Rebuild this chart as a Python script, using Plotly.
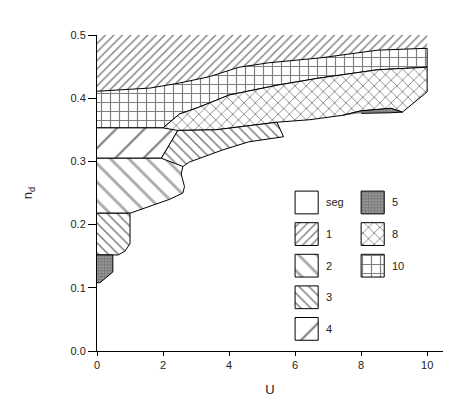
import plotly.graph_objects as go

# region outlines (U, n_d)
u_1 = [0, 1.6, 2.5, 3.4, 4.3, 5.2, 6.8, 8.5, 10, 10, 0]
nd_1 = [0.411, 0.416, 0.424, 0.434, 0.449, 0.456, 0.464, 0.476, 0.479, 0.5, 0.5]

u_10 = [0, 1.6, 2.5, 3.4, 4.3, 5.2, 6.8, 8.5, 10, 10, 8.5, 6.75, 5.5, 4.0, 3.1, 2.5, 2.0, 0]
nd_10 = [0.411, 0.416, 0.424, 0.434, 0.449, 0.456, 0.464, 0.476, 0.479,
         0.449, 0.445, 0.432, 0.421, 0.405, 0.386, 0.375, 0.353, 0.353]

u_8 = [2.0, 2.5, 3.1, 4.0, 5.5, 6.75, 8.5, 10, 10, 9.25, 8.9, 8.0, 7.45, 7.06, 6.45,
       5.45, 4.5, 3.6, 2.45]
nd_8 = [0.353, 0.375, 0.386, 0.405, 0.421, 0.432, 0.445, 0.449, 0.41, 0.378, 0.384,
        0.380, 0.373, 0.370, 0.366, 0.362, 0.356, 0.350, 0.349]

u_5a = [7.45, 8.0, 8.9, 9.25, 8.9, 8.0]
nd_5a = [0.373, 0.380, 0.384, 0.378, 0.377, 0.376]

u_4 = [0, 1.95, 2.45, 2.0, 0]
nd_4 = [0.305, 0.305, 0.349, 0.353, 0.353]

u_3a = [1.95, 2.45, 3.6, 4.5, 5.45, 5.65, 4.6, 3.8, 2.8, 2.6]
nd_3a = [0.305, 0.349, 0.350, 0.356, 0.362, 0.339, 0.331, 0.318, 0.299, 0.292]

u_2 = [0, 1.95, 2.6, 2.55, 2.65, 2.6, 2.2, 1.6, 1.0, 0]
nd_2 = [0.305, 0.305, 0.292, 0.28, 0.26, 0.25, 0.24, 0.229, 0.218, 0.218]

u_3b = [0, 1.0, 1.0, 0.85, 0.64, 0]
nd_3b = [0.218, 0.218, 0.17, 0.158, 0.152, 0.152]

u_5b = [0, 0.48, 0.48, 0.09, 0]
nd_5b = [0.152, 0.152, 0.125, 0.108, 0.108]

# legend entries: (label, column, row)
legend_items = [("seg", 0, 0), ("1", 0, 1), ("2", 0, 2), ("3", 0, 3), ("4", 0, 4),
                ("5", 1, 0), ("8", 1, 1), ("10", 1, 2)]

patterns = {
    "seg": None,
    "1": dict(shape="/", size=6, solidity=0.24, fgcolor="black"),
    "2": dict(shape="\\", size=13, solidity=0.22, fgcolor="#555"),
    "3": dict(shape="\\", size=7, solidity=0.22, fgcolor="black"),
    "4": dict(shape="/", size=20, solidity=0.11, fgcolor="black"),
    "5": dict(shape=".", size=3, solidity=0.85, fgcolor="black"),
    "8": dict(shape="x", size=8, solidity=0.2, fgcolor="black"),
    "10": dict(shape="+", size=9, solidity=0.24, fgcolor="black"),
}

regions = [
    ("1", u_1, nd_1, 0),
    ("10", u_10, nd_10, 1),
    ("8", u_8, nd_8, 1),
    ("5", u_5a, nd_5a, 1),
    ("4", u_4, nd_4, 1),
    ("3", u_3a, nd_3a, 1),
    ("2", u_2, nd_2, 1),
    ("3", u_3b, nd_3b, 1),
    ("5", u_5b, nd_5b, 1),
]


def poly(u, nd, name, lw):
    pat = patterns[name]
    kw = dict(fillpattern=dict(bgcolor="white", **pat)) if pat else {}
    return go.Scatter(x=u, y=nd, mode="lines", fill="toself", fillcolor="white",
                      line=dict(color="black", width=lw), hoverinfo="skip",
                      showlegend=False, **kw)


fig = go.Figure()
for name, u, nd, lw in regions:
    fig.add_trace(poly(u, nd, name, lw))

# hand-drawn legend inside the axes
col_x = [6.0, 8.0]
box_w, box_h = 0.7, 0.036
row_top, row_step = 0.253, 0.05
for name, c, r in legend_items:
    x0 = col_x[c]
    y1 = row_top - r * row_step
    fig.add_trace(poly([x0, x0 + box_w, x0 + box_w, x0, x0],
                       [y1, y1, y1 - box_h, y1 - box_h, y1], name, 1))
    fig.add_annotation(x=x0 + box_w + 0.18, y=y1 - box_h / 2, text=name,
                       showarrow=False, xanchor="left",
                       font=dict(size=11, color="#222"))

# page body adds an 8px margin, so the figure is shifted by that much
fig.update_layout(
    width=455, height=409,
    margin=dict(l=89, r=20, t=27, b=66),
    plot_bgcolor="white", paper_bgcolor="white",
    font=dict(family="Liberation Sans, Arial", size=11, color="#222"),
    showlegend=False,
)
fig.update_xaxes(range=[0, 10.48], tickvals=[0, 2, 4, 6, 8, 10], showgrid=False,
                 zeroline=False, showline=True, linecolor="black", linewidth=1,
                 ticks="outside", ticklen=4, tickcolor="black",
                 title=dict(text="U", standoff=14, font=dict(size=13)))
fig.update_yaxes(range=[0, 0.5], tickvals=[0, 0.1, 0.2, 0.3, 0.4, 0.5],
                 tickformat=".1f", showgrid=False, zeroline=False, showline=True,
                 linecolor="black", linewidth=1, ticks="outside", ticklen=8,
                 tickcolor="black",
                 title=dict(text="n<sub>d</sub>", standoff=34, font=dict(size=13)))

fig.write_html("out.html")
